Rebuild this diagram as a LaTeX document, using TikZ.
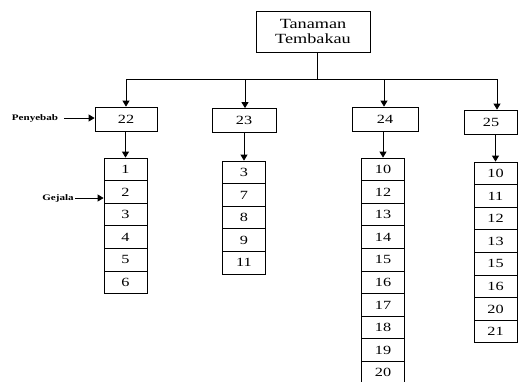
\documentclass[tikz,border=0pt]{standalone}
\usepackage{fontspec}
\setmainfont{Liberation Serif}[FakeStretch=1.3]
\usetikzlibrary{arrows.meta}

\begin{document}
\begin{tikzpicture}[x=1pt, y=-1pt, line width=0.8pt,
	judul/.style={draw, minimum width=114pt, minimum height=41pt, align=center, inner sep=0pt,
		font=\fontsize{14}{15}\selectfont},
	kelas/.style={draw, minimum width=64pt, minimum height=24pt, inner sep=0pt,
		font=\fontsize{12.5}{14}\selectfont},
	sel/.style={draw, minimum width=43pt, minimum height=22.6pt, inner sep=0pt,
		font=\fontsize{12.5}{14}\selectfont},
	ket/.style={inner sep=1pt, font=\fontsize{8.5}{10}\selectfont\bfseries},
	panah/.style={-{Triangle[length=6pt,width=7pt]}}]
	\useasboundingbox (0,0) rectangle (518,381);

	% akar
	\node [judul] (judul) at (313,31.5) {Tanaman\\Tembakau};
	\coordinate (akar) at (317,79);
	\coordinate (t22) at (126,79);
	\coordinate (t23) at (245,79);
	\coordinate (t24) at (384,79);
	\coordinate (t25) at (497,79);
	\draw (judul.south -| akar) -- (akar);
	\draw (t22) -- (t25);

	% penyebab
	\node [kelas, minimum width=62pt] (k22) at (126,119) {22};
	\node [kelas] (k23) at (244,120.5) {23};
	\node [kelas, minimum width=66pt] (k24) at (385,119) {24};
	\node [kelas, minimum width=53pt] (k25) at (491,122) {25};
	\foreach \k in {22,23,24,25}
		\draw [panah] (t\k) -- (t\k |- k\k.north);

	% gejala
	\foreach \v [count=\i] in {1,2,3,4,5,6}
		\node [sel] (g22-\i) at (125.5,{169.3+(\i-1)*22.6}) {\v};
	\foreach \v [count=\i] in {3,7,8,9,11}
		\node [sel] (g23-\i) at (244,{172.3+(\i-1)*22.6}) {\v};
	\foreach \v [count=\i] in {10,12,13,14,15,16,17,18,19,20}
		\node [sel] (g24-\i) at (383,{169.3+(\i-1)*22.6}) {\v};
	\foreach \v [count=\i] in {10,11,12,13,15,16,20,21}
		\node [sel] (g25-\i) at (495.5,{173.3+(\i-1)*22.6}) {\v};
	\draw [panah] (g22-1.north |- k22.south) -- (g22-1.north);
	\draw [panah] (g23-1.north |- k23.south) -- (g23-1.north);
	\draw [panah] (g24-1.north |- k24.south) -- (g24-1.north);
	\draw [panah] (g25-1.north |- k25.south) -- (g25-1.north);

	% keterangan
	\node [ket] (penyebab) at (35,118) {Penyebab};
	\draw [panah] (penyebab.east) ++(5,0) -- (penyebab.east -| k22.west);
	\node [ket] (gejala) at (58,198) {Gejala};
	\draw [panah] (gejala.east) -- (gejala.east -| g22-2.west);
\end{tikzpicture}
\end{document}
